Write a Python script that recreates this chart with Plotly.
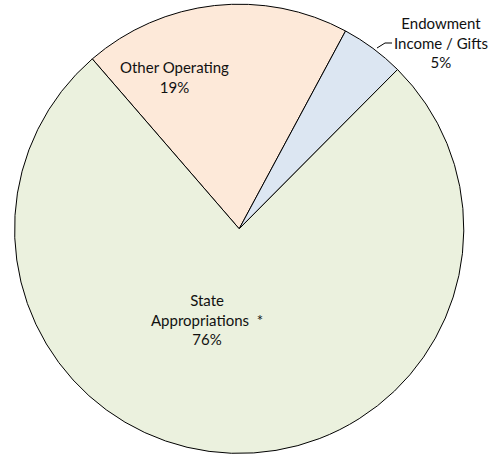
import plotly.graph_objects as go

categories = ["Other Operating", "Endowment Income / Gifts", "State Appropriations *"]
values = [19.2, 4.6, 76.2]
label_texts = ["Other Operating", "Endowment<br>Income / Gifts", "State<br>Appropriations  *"]
colors = ["#FDE9D9", "#DCE6F2", "#EBF1DE"]

total = sum(values)
pcts = [f"{int(v / total * 100 + 0.5)}%" for v in values]

fig = go.Figure(go.Pie(
    labels=categories,
    values=values,
    sort=False,
    direction="clockwise",
    rotation=-40.85,
    marker=dict(colors=colors, line=dict(color="#000000", width=1)),
    textinfo="none",
    hoverinfo="label+percent",
    showlegend=False,
    domain=dict(x=[0.0297, 0.9446], y=[0.0035, 0.9908]),
))

W, H = 491, 455
label_pos = [(174, 77), (441, 42), (207, 319)]
for txt, pct, (px, py) in zip(label_texts, pcts, label_pos):
    fig.add_annotation(
        x=px / W, y=1 - py / H, xref="paper", yref="paper",
        text=f"{txt}<br>{pct}", showarrow=False,
        font=dict(family="Lato, Carlito, sans-serif", size=15, color="#111111"),
        align="center", xanchor="center", yanchor="middle",
    )

fig.add_shape(type="line", xref="paper", yref="paper",
              x0=377 / W, y0=1 - 48 / H, x1=385 / W, y1=1 - 43 / H,
              line=dict(color="#000000", width=1))
fig.add_shape(type="line", xref="paper", yref="paper",
              x0=385 / W, y0=1 - 43 / H, x1=392 / W, y1=1 - 43 / H,
              line=dict(color="#000000", width=1))

fig.update_layout(
    width=W, height=H,
    margin=dict(l=0, r=0, t=0, b=0),
    paper_bgcolor="white", plot_bgcolor="white",
)

fig.write_html("out.html")
